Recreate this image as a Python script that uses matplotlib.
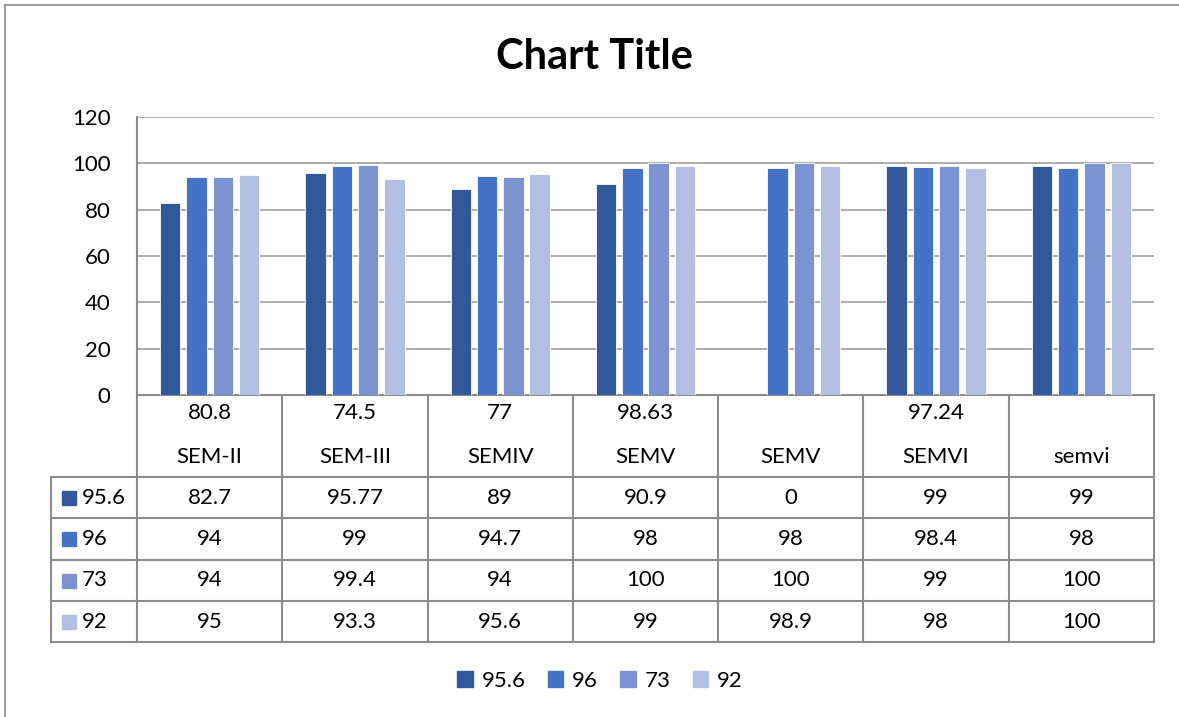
import matplotlib.pyplot as plt
import numpy as np

# data
top_labels = ["80.8", "74.5", "77", "98.63", "", "97.24", ""]
sem_labels = ["SEM-II", "SEM-III", "SEMIV", "SEMV", "SEMV", "SEMVI", "semvi"]
series_names = ["95.6", "96", "73", "92"]
s1 = [82.7, 95.77, 89, 90.9, 0, 99, 99]
s2 = [94, 99, 94.7, 98, 98, 98.4, 98]
s3 = [94, 99.4, 94, 100, 100, 99, 100]
s4 = [95, 93.3, 95.6, 99, 98.9, 98, 100]
series = [s1, s2, s3, s4]
cell_text = [["82.7", "95.77", "89", "90.9", "0", "99", "99"],
             ["94", "99", "94.7", "98", "98", "98.4", "98"],
             ["94", "99.4", "94", "100", "100", "99", "100"],
             ["95", "93.3", "95.6", "99", "98.9", "98", "100"]]
colors = ['#30589A', '#4472C4', '#7B94D1', '#B3BFE2']

plt.rcParams['font.family'] = ['Lato', 'DejaVu Sans']
W, H = 1179, 717
fs = 16
fig = plt.figure(figsize=(W/100, H/100), dpi=100)

# overlay in pixel coords for table, border, title, legend
ov = fig.add_axes([0, 0, 1, 1])
ov.set_xlim(0, W)
ov.set_ylim(H, 0)
ov.axis('off')

# plot area
x0, x1, ytop, ybot = 137, 1154, 117, 395
ax = fig.add_axes([x0/W, 1 - ybot/H, (x1-x0)/W, (ybot-ytop)/H])
n = len(sem_labels)
x = np.arange(n)
step, bw = 0.181, 0.141
for k, s in enumerate(series):
    ax.bar(x + (k - 1.5)*step, s, width=bw, color=colors[k], edgecolor='white',
           linewidth=0.6, zorder=3)
ax.set_xlim(-0.5, n - 0.5)
ax.set_ylim(0, 120)
ax.set_yticks(range(0, 121, 20))
ax.set_xticks([])
ax.yaxis.grid(True, color='#A6A6A6', linewidth=1.3)
ax.tick_params(axis='y', length=0, labelsize=fs, pad=19)
for sp in ['top', 'right']:
    ax.spines[sp].set_visible(False)
for sp in ['left', 'bottom']:
    ax.spines[sp].set_color('#8C8C8C')
    ax.spines[sp].set_linewidth(1.5)
ax.set_facecolor('none')

# outer border (top and left visible)
ov.plot([5, W + 5], [5, 5], color='#8C8C8C', lw=1.2)
ov.plot([5, 5], [5, H + 5], color='#8C8C8C', lw=1.2)

ov.text(594, 57, "Chart Title", ha='center', va='center', fontsize=30,
        fontweight='bold', color='black')

# data table
lc, lw = '#8C8C8C', 1.5
colw = (x1 - x0) / n
rows = [477, 518, 560, 601, 642]
left = 51
for i in range(n + 1):
    xc = x0 + i*colw
    ov.plot([xc, xc], [ybot, rows[-1]], color=lc, lw=lw)
ov.plot([left, left], [rows[0], rows[-1]], color=lc, lw=lw)
for r in rows:
    ov.plot([left, x1], [r, r], color=lc, lw=lw)
for i in range(n):
    xc = x0 + (i + 0.5)*colw
    ov.text(xc, 413, top_labels[i], ha='center', va='center', fontsize=fs)
    ov.text(xc, 457, sem_labels[i], ha='center', va='center', fontsize=fs)
    for j in range(4):
        yc = (rows[j] + rows[j+1]) / 2
        ov.text(xc, yc, cell_text[j][i], ha='center', va='center', fontsize=fs)
for j in range(4):
    yc = (rows[j] + rows[j+1]) / 2
    ov.add_patch(plt.Rectangle((62, yc - 7), 14, 14, color=colors[j]))
    ov.text(82, yc, series_names[j], ha='left', va='center', fontsize=fs)

# legend
handles = [plt.Rectangle((0, 0), 1, 1, color=c) for c in colors]
fig.legend(handles, series_names, loc='center', bbox_to_anchor=(600/W, 1 - 681/H),
           ncol=4, frameon=False, fontsize=fs, handlelength=0.7, handleheight=0.7,
           handletextpad=0.4, columnspacing=1.0)

fig.savefig('out.png', dpi=100)
